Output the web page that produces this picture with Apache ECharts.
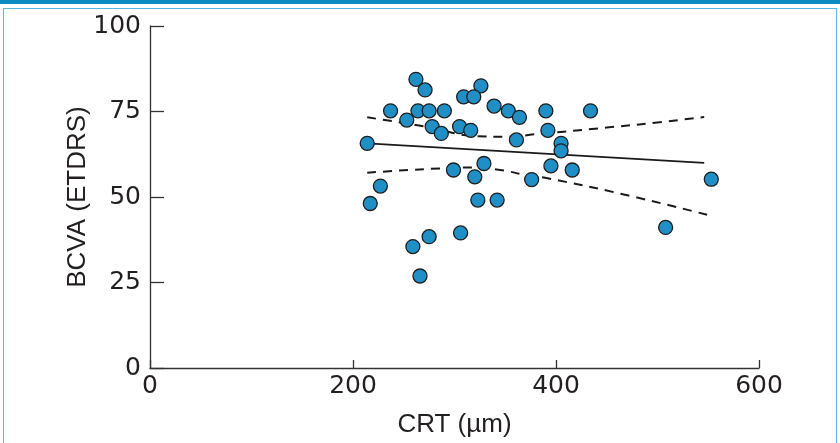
<!DOCTYPE html>
<html>
<head>
<meta charset="utf-8">
<script src="https://cdn.jsdelivr.net/npm/echarts@6/dist/echarts.min.js"></script>
<style>
body { margin: 0; background: #fff; }
#wrap { position: relative; width: 840px; height: 443px; overflow: hidden; }
#topBar { position: absolute; left: 0; top: 0; width: 840px; height: 4px; background: #0d8cc2; }
#frame { position: absolute; left: 3px; top: 8px; width: 832px; height: 460px; border: 1px solid #5cb6e0; }
#myChart { position: absolute; left: 0; top: 0; width: 840px; height: 443px; }
</style>
</head>
<body>
<div id="wrap">
  <div id="topBar"></div>
  <div id="frame"></div>
  <div id="myChart"></div>
</div>
<script>
// scatter points: CRT (um) vs BCVA (ETDRS letters)
var crt = [262, 271, 326, 309, 319, 237, 264, 275, 290, 339,
           353, 364, 390, 434, 253, 278, 287, 305, 316, 392,
           361, 214, 405, 405, 329, 299, 320, 395, 416, 376,
           227, 217, 323, 342, 275, 306, 266, 259, 553, 508];
var bcva = [84.4, 81.3, 82.5, 79.3, 79.3, 75.2, 75.2, 75.2, 75.2, 76.6,
            75.2, 73.3, 75.2, 75.2, 72.5, 70.6, 68.6, 70.6, 69.5, 69.5,
            66.7, 65.7, 65.7, 63.5, 59.8, 57.9, 55.9, 59.1, 57.9, 55.1,
            53.2, 48.1, 49.1, 49.1, 38.4, 39.5, 26.9, 35.5, 55.2, 41.1];

// regression line and 95% band
var fitX = [214, 546];
var fitY = [65.7, 60.0];
var upperX = [214, 273, 322, 350, 381, 450, 500, 546];
var upperY = [73.3, 70.5, 67.8, 67.6, 68.4, 70.3, 71.8, 73.4];
var lowerX = [214, 289, 320, 345, 371, 388, 469, 550];
var lowerY = [57.1, 58.4, 58.6, 57.9, 56.4, 55.7, 50.6, 44.7];

var xTicks = [0, 200, 400, 600];
var yTicks = [0, 25, 50, 75, 100];

function pairs(xs, ys) {
  var out = [];
  for (var i = 0; i < xs.length; i++) out.push([xs[i], ys[i]]);
  return out;
}

var nameFont = 'Liberation Sans';
var tickFont = 'DejaVu Sans';
var ink = '#231f20';

var option = {
  animation: false,
  backgroundColor: 'transparent',
  grid: { left: 150, right: 81, top: 26, bottom: 75, containLabel: false },
  xAxis: {
    type: 'value',
    min: xTicks[0], max: xTicks[xTicks.length - 1], interval: 200,
    name: 'CRT (µm)', nameLocation: 'middle', nameGap: 44, nameMoveOverlap: false,
    nameTextStyle: { fontFamily: nameFont, fontSize: 26, color: ink },
    axisLine: { lineStyle: { color: '#333', width: 1.3 } },
    axisTick: { inside: true, length: 8, lineStyle: { color: '#333', width: 1.3 } },
    axisLabel: { fontFamily: tickFont, fontSize: 25, color: ink, margin: 6 },
    splitLine: { show: false }
  },
  yAxis: {
    type: 'value',
    min: yTicks[0], max: yTicks[yTicks.length - 1], interval: 25,
    name: 'BCVA (ETDRS)', nameLocation: 'middle', nameGap: 59, nameMoveOverlap: false,
    nameTextStyle: { fontFamily: nameFont, fontSize: 26, color: ink },
    axisLine: { show: true, lineStyle: { color: '#333', width: 1.3 } },
    axisTick: { show: true, inside: true, length: 14, lineStyle: { color: '#333', width: 1.3 } },
    axisLabel: { fontFamily: tickFont, fontSize: 25, color: ink, margin: 9 },
    splitLine: { show: false }
  },
  series: [
    {
      type: 'line', data: pairs(upperX, upperY), smooth: true, symbol: 'none',
      lineStyle: { color: '#1a1a1a', width: 2, type: [9, 7] }, z: 1
    },
    {
      type: 'line', data: pairs(lowerX, lowerY), smooth: true, symbol: 'none',
      lineStyle: { color: '#1a1a1a', width: 2, type: [9, 7] }, z: 1
    },
    {
      type: 'line', data: pairs(fitX, fitY), symbol: 'none',
      lineStyle: { color: '#1a1a1a', width: 1.8 }, z: 1
    },
    {
      type: 'scatter', data: pairs(crt, bcva), symbolSize: 14, z: 3,
      itemStyle: { color: '#1f8fc6', borderColor: '#1e1e1e', borderWidth: 1.3, opacity: 1 }
    }
  ]
};

var myChart = echarts.init(document.getElementById('myChart'));
myChart.setOption(option);
</script>
</body>
</html>
